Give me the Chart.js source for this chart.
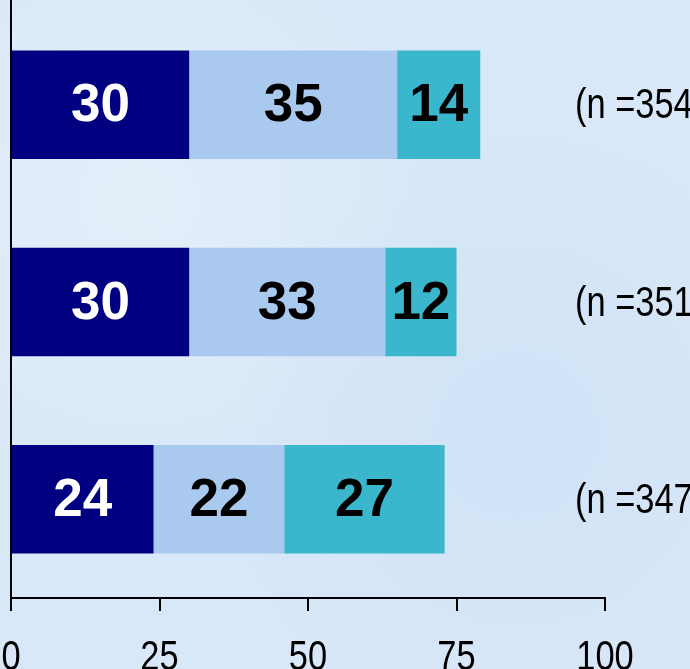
<!DOCTYPE html>
<html><head><meta charset="utf-8">
<script src="https://cdn.jsdelivr.net/npm/chart.js@4"></script>
<style>
html,body{margin:0;padding:0;overflow:hidden;background:#d9e8f8;}
#wrap{position:relative;width:690px;height:669px;
background:
 radial-gradient(circle at 20% 30%, rgba(255,255,255,0.30), rgba(255,255,255,0) 40%),
 radial-gradient(circle at 75% 65%, rgba(190,215,242,0.35), rgba(190,215,242,0) 45%),
 #d9e8f8;}
</style></head>
<body><div id="wrap"><canvas id="c"></canvas></div>
<script>
const categories = ['A','B','C'];
const series1 = [30, 30, 24];
const series2 = [35, 33, 22];
const series3 = [14, 12, 27];
const nLabels = ['(n =354)', '(n =351)', '(n =347)'];
const xTicks = [0, 25, 50, 75, 100];

function narrowText(ctx, text, x, y, align){
  const sx = 0.82;
  ctx.save();
  ctx.translate(x, y);
  ctx.scale(sx, 1);
  ctx.textAlign = align;
  ctx.fillText(text, 0, 0);
  ctx.restore();
}

const valueLabels = {
  id:'valueLabels',
  afterDatasetsDraw(chart){
    const ctx = chart.ctx;
    ctx.save();
    ctx.font = 'bold 53px "Liberation Sans", Arial, sans-serif';
    ctx.textAlign = 'center';
    ctx.textBaseline = 'middle';
    chart.data.datasets.forEach((ds, di) => {
      const meta = chart.getDatasetMeta(di);
      meta.data.forEach((bar, i) => {
        const p = bar.getProps(['x','y','base'], true);
        ctx.fillStyle = di === 0 ? '#ffffff' : '#000000';
        ctx.fillText(String(ds.data[i]), (p.x + p.base)/2, p.y + 2);
      });
    });
    // n labels
    ctx.font = '42px "Liberation Sans", Arial, sans-serif';
    ctx.textBaseline = 'middle';
    ctx.fillStyle = '#000';
    const ys = chart.scales.y;
    nLabels.forEach((t, i) => {
      narrowText(ctx, t, chart.chartArea.right - 30, ys.getPixelForValue(i) + 2, 'left');
    });
    // x tick labels
    const xs = chart.scales.x;
    ctx.textBaseline = 'alphabetic';
    xTicks.forEach(v => {
      narrowText(ctx, String(v), xs.getPixelForValue(v), chart.chartArea.bottom + 72, 'center');
    });
    // extend y axis line to top
    ctx.strokeStyle = '#000';
    ctx.lineWidth = 2;
    ctx.beginPath();
    ctx.moveTo(chart.chartArea.left, 0);
    ctx.lineTo(chart.chartArea.left, chart.chartArea.top + 1);
    ctx.stroke();
    ctx.restore();
  }
};

new Chart(document.getElementById('c'), {
  type:'bar',
  data:{
    labels: categories,
    datasets:[
      {data: series1, backgroundColor:'#000080'},
      {data: series2, backgroundColor:'#a9caee'},
      {data: series3, backgroundColor:'#3bb7cd'}
    ]
  },
  options:{
    indexAxis:'y',
    responsive:true,
    maintainAspectRatio:false,
    animation:false,
    layout:{padding:{top:6, left:11, right:85, bottom:58}},
    datasets:{bar:{categoryPercentage:1, barPercentage:0.55}},
    plugins:{legend:{display:false}, tooltip:{enabled:false}},
    scales:{
      x:{
        stacked:true, min:0, max:100,
        afterBuildTicks(scale){ scale.ticks = xTicks.map(v=>({value:v})); },
        grid:{display:true, drawOnChartArea:false, drawTicks:true, tickLength:13, color:'#000', lineWidth:2},
        border:{display:true, color:'#000', width:2},
        ticks:{display:false}
      },
      y:{
        stacked:true,
        grid:{display:false, drawTicks:false},
        border:{display:true, color:'#000', width:2},
        ticks:{display:false}
      }
    }
  },
  plugins:[valueLabels]
});
</script></body></html>
